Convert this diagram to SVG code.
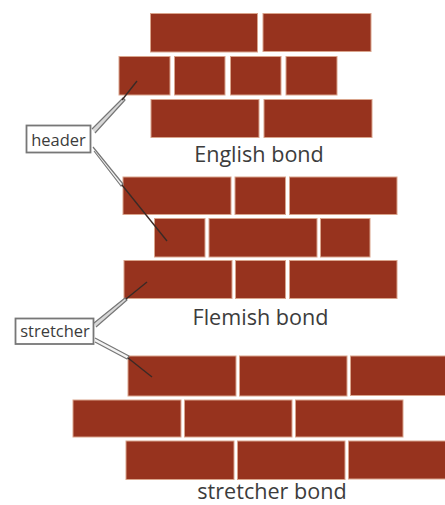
<svg xmlns="http://www.w3.org/2000/svg" width="445" height="505" viewBox="0 0 445 505">
<style>
.b{fill:#97331e;stroke:#d9a48c;stroke-width:1}
.t{font-family:"Open Sans","Noto Sans",sans-serif;fill:#3c3c3c}
.cap{font-size:21.600px;text-anchor:middle}
.lab{font-size:16.500px;text-anchor:middle}
.box{fill:#fff;stroke:#777;stroke-width:1.800}
.lead{fill:#d8d8d8;stroke:#777;stroke-width:1.200;stroke-linejoin:round}
.low{fill:#f4f4f4}
.tip{fill:none;stroke:#3a2a26;stroke-width:1.400}
</style>
<rect width="445" height="505" fill="#fff"/>
<g id="english-bond">
<rect class="b" x="150.500" y="13.500" width="107" height="38.500"/><rect class="b" x="263" y="13.500" width="108" height="38"/>
<rect class="b" x="119" y="56.500" width="51" height="38.500"/><rect class="b" x="174.500" y="56.500" width="50.500" height="38.500"/><rect class="b" x="230.500" y="56.500" width="50.500" height="38.500"/><rect class="b" x="286" y="56.500" width="51" height="38.500"/>
<rect class="b" x="151" y="99.500" width="108" height="38"/><rect class="b" x="264" y="99.500" width="108" height="38"/>
<text class="t cap" x="259" y="162">English bond</text>
</g>
<g id="flemish-bond">
<rect class="b" x="123" y="177" width="108" height="37.500"/><rect class="b" x="235" y="177" width="50.500" height="37.500"/><rect class="b" x="289.500" y="177" width="107.500" height="37.500"/>
<rect class="b" x="154.500" y="218.500" width="50.500" height="38.500"/><rect class="b" x="209" y="218.500" width="108" height="38.500"/><rect class="b" x="320.500" y="218.500" width="49.500" height="38.500"/>
<rect class="b" x="124" y="260.500" width="108" height="38"/><rect class="b" x="235.500" y="260.500" width="50" height="38"/><rect class="b" x="289.500" y="260.500" width="107.500" height="38"/>
<text class="t cap" x="260.500" y="325">Flemish bond</text>
</g>
<g id="stretcher-bond">
<rect class="b" x="128" y="356" width="108" height="40"/><rect class="b" x="239.500" y="356" width="107.500" height="40"/><rect class="b" x="350.500" y="356" width="96" height="39.500"/>
<rect class="b" x="73" y="400" width="108" height="37"/><rect class="b" x="184.500" y="400" width="107.500" height="37"/><rect class="b" x="295.500" y="400" width="107.500" height="37"/>
<rect class="b" x="126" y="441" width="108" height="38.500"/><rect class="b" x="237.500" y="441" width="107.500" height="38.500"/><rect class="b" x="348.500" y="441" width="98" height="38"/>
<text class="t cap" x="272" y="498.500">stretcher bond</text>
</g>
<g id="connectors">
<path class="lead" d="M92 129L123 98L125 100L95 133"/>
<path class="tip" d="M122 100L137 81"/>
<path class="lead low" d="M93 147L123 184L121 186L94 151"/>
<path class="tip" d="M122 185L167 241"/>
<path class="lead" d="M94 323L125 298L127 300L96 327"/>
<path class="tip" d="M126 299L147 282"/>
<path class="lead low" d="M95 338L129 356L127 359L95 342"/>
<path class="tip" d="M128 358L152 377"/>
</g>
<g id="header">
<rect class="box" x="26.500" y="125.500" width="64" height="27"/>
<text class="t lab" x="58.500" y="146">header</text>
</g>
<g id="stretcher">
<rect class="box" x="15.500" y="318.500" width="78" height="25.500"/>
<text class="t lab" x="55" y="337">stretcher</text>
</g>
</svg>
